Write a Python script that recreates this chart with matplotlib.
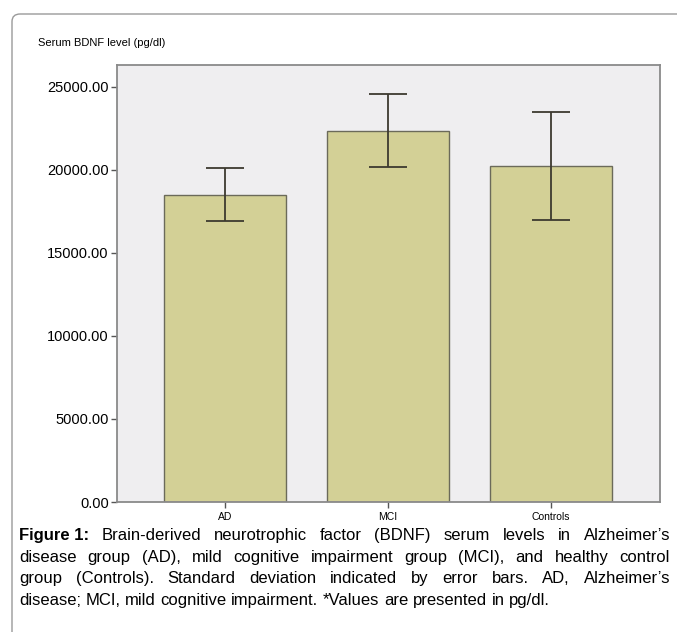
import matplotlib
matplotlib.use("Agg")
import matplotlib.pyplot as plt
from matplotlib.patches import FancyBboxPatch

plt.rcParams["font.family"] = ["Liberation Sans", "DejaVu Sans"]

# ── DATA ──────────────────────────────────────────────────────────────────────
groups = ["AD", "MCI", "Controls"]
means = [18500, 22360, 20240]
sds = [1600, 2200, 3280]
yticks = [0, 5000, 10000, 15000, 20000, 25000]

title = "Serum BDNF level (pg/dl)"
caption_lines = [
    ["Figure 1:", "Brain-derived", "neurotrophic", "factor", "(BDNF)", "serum", "levels",
     "in", "Alzheimer\u2019s"],
    ["disease", "group", "(AD),", "mild", "cognitive", "impairment", "group", "(MCI),",
     "and", "healthy", "control"],
    ["group", "(Controls).", "Standard", "deviation", "indicated", "by", "error",
     "bars.", "AD,", "Alzheimer\u2019s"],
    ["disease;", "MCI,", "mild", "cognitive", "impairment.", "*Values", "are",
     "presented", "in", "pg/dl."],
]

# ── STYLE ─────────────────────────────────────────────────────────────────────
W, H = 677, 632
BAR_COLOR = "#d3d096"
BG_COLOR = "#efeef0"
SPINE = "#8a8a8a"
CAP_FONT = "Liberation Sans"

fig = plt.figure(figsize=(W / 100, H / 100), dpi=100)

# outer rounded frame
frame = FancyBboxPatch((12 / W, -0.05), 1.0, 1.05 - 14 / H,
                       boxstyle="round,pad=0,rounding_size=0.012",
                       transform=fig.transFigure, fill=False,
                       edgecolor="#9a9a9a", linewidth=1.0)
fig.patches.append(frame)

ax = fig.add_axes([117 / W, 1 - 502 / H, (660 - 117) / W, (502 - 65) / H])
ax.set_facecolor(BG_COLOR)

x = range(len(groups))
ax.bar(x, means, width=0.75, color=BAR_COLOR, edgecolor="#6b6a5a",
       linewidth=1.0, zorder=2)
ax.errorbar(x, means, yerr=sds, fmt="none", ecolor="#3d3a30",
            elinewidth=1.3, capsize=14, capthick=1.3, zorder=3)

ax.set_xlim(-0.663, 2.67)
ax.set_ylim(0, 26325)
ax.set_xticks(list(x))
ax.set_xticklabels(groups, fontsize=7.5)
ax.set_yticks(yticks)
ax.set_yticklabels([f"{v:.2f}" for v in yticks], fontsize=10.5)
ax.tick_params(axis="both", length=4, width=1, color="#555555", pad=2)
ax.tick_params(axis="x", pad=3)
for s in ax.spines.values():
    s.set_color(SPINE)
    s.set_linewidth(1.3)

fig.text(38 / W, 1 - 43 / H, title, fontsize=8, va="center", ha="left")

# ── CAPTION (justified) ───────────────────────────────────────────────────────
renderer = fig.canvas.get_renderer()
left_px, right_px = 19, 670
size = 11.0
baselines = [540, 562, 583, 605]

def word_width(word, bold=False):
    t = fig.text(0, 0, word, fontsize=size, family=CAP_FONT,
                 fontweight="bold" if bold else "normal")
    w = t.get_window_extent(renderer).width
    t.remove()
    return w

# largest size at which every justified line still fits with normal spaces
sp = word_width("a b") - word_width("ab")
fits = []
for i, words in enumerate(caption_lines[:-1]):
    natural = sum(word_width(w, i == 0 and j == 0) for j, w in enumerate(words))
    natural += sp * (len(words) - 1) * 0.9
    fits.append(size * (right_px - left_px) / natural)
size = min(12.0, min(fits))

for i, words in enumerate(caption_lines):
    bolds = [(i == 0 and j == 0) for j in range(len(words))]
    widths = [word_width(w, b) for w, b in zip(words, bolds)]
    space = word_width("a b") - word_width("ab")
    if i < len(caption_lines) - 1:
        gap = (right_px - left_px - sum(widths)) / (len(words) - 1)
    else:
        gap = space
    xpos = left_px
    for w, wd, b in zip(words, widths, bolds):
        fig.text(xpos / W, 1 - baselines[i] / H, w, fontsize=size, family=CAP_FONT,
                 fontweight="bold" if b else "normal", va="baseline", ha="left")
        xpos += wd + gap

fig.savefig("out.png", dpi=100)
